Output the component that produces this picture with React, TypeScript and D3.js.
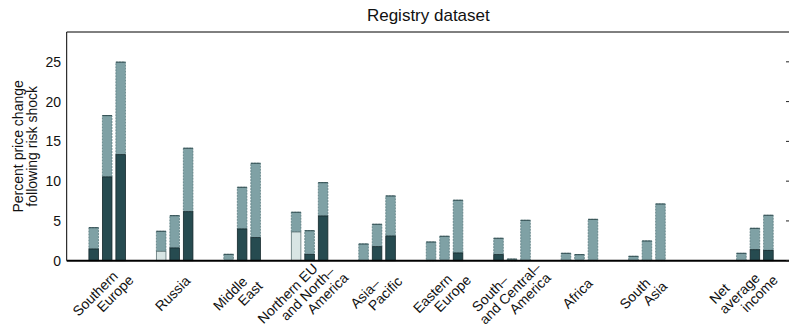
import React from "react";
import * as d3 from "d3";

const categories: string[][] = [
  ["Southern", "Europe"],
  ["Russia"],
  ["Middle", "East"],
  ["Northern EU", "and North–", "America"],
  ["Asia–", "Pacific"],
  ["Eastern", "Europe"],
  ["South–", "and Central–", "America"],
  ["Africa"],
  ["South", "Asia"],
  ["Net", "average", "income"],
];
const groupPositions = [1, 2, 3, 4, 5, 6, 7, 8, 9, 10.6];
const labelPositions = [1, 2, 3, 4, 5, 6, 7, 8, 9, 10.4];

// total height of each bar (three bars per group)
const totalValues = [
  [4.15, 18.24, 24.96],
  [3.7, 5.66, 14.14],
  [0.8, 9.23, 12.25],
  [6.09, 3.77, 9.81],
  [2.1, 4.58, 8.14],
  [2.35, 3.07, 7.6],
  [2.82, 0.2, 5.08],
  [0.93, 0.76, 5.2],
  [0.55, 2.48, 7.13],
  [0.93, 4.07, 5.71],
];
// dark lower segment
const darkValues = [
  [1.47, 10.53, 13.33],
  [0, 1.6, 6.16],
  [0, 3.99, 2.9],
  [0, 0.8, 5.62],
  [0, 1.76, 3.1],
  [0, 0, 0.97],
  [0.76, 0, 0],
  [0, 0, 0],
  [0, 0, 0],
  [0, 1.38, 1.3],
];
// pale lower segment
const paleValues = [
  [0, 0, 0],
  [1.18, 0, 0],
  [0, 0, 0],
  [3.61, 0, 0],
  [0, 0, 0],
  [0, 0, 0],
  [0, 0, 0],
  [0, 0, 0],
  [0, 0, 0],
  [0, 0, 0],
];
const yTicks = [0, 5, 10, 15, 20, 25];
const barOffsets = [-0.2, 0, 0.2];
const barWidth = 0.142;

const W = 789;
const H = 324;
const left = 66.7;
const right = 790;
const top = 32;
const bottom = 260.7;

const DARK = "#264b50";
const LIGHT = "#7fa1a5";
const PALE = "#d8e5e4";
const FONT = "'Liberation Sans', Arial, Helvetica, sans-serif";

export default function App() {
  const x = d3.scaleLinear().domain([0.4, 11.12]).range([left, right]);
  const y = d3.scaleLinear().domain([0, 28.75]).range([bottom, top]);
  const bw = x(barWidth) - x(0);
  const lineShift = 20;
  const labelY = 293.5;

  const bars: React.ReactNode[] = [];
  groupPositions.forEach((p, g) => {
    barOffsets.forEach((o, b) => {
      const xc = x(p + o);
      const x0 = xc - bw / 2;
      const tot = totalValues[g][b];
      const dk = darkValues[g][b];
      const pl = paleValues[g][b];
      const base = Math.max(dk, pl);
      bars.push(
        <rect key={`u${g}-${b}`} x={x0} y={y(tot)} width={bw} height={y(base) - y(tot)}
          fill={LIGHT} stroke="#587a7e" strokeWidth={0.8} strokeDasharray="2,1" />
      );
      bars.push(
        <line key={`t${g}-${b}`} x1={x0} x2={x0 + bw} y1={y(tot)} y2={y(tot)} stroke="#2f4c50" strokeWidth={1} />
      );
      if (dk > 0) {
        bars.push(
          <rect key={`d${g}-${b}`} x={x0} y={y(dk)} width={bw} height={y(0) - y(dk)}
            fill={DARK} stroke="#15292c" strokeWidth={0.8} />
        );
      }
      if (pl > 0) {
        bars.push(
          <rect key={`p${g}-${b}`} x={x0} y={y(pl)} width={bw} height={y(0) - y(pl)}
            fill={PALE} stroke="#5d7375" strokeWidth={0.8} />
        );
      }
    });
  });

  const labels: React.ReactNode[] = [];
  categories.forEach((lines, g) => {
    const cx = x(labelPositions[g]) - 2;
    const n = lines.length;
    lines.forEach((s, i) => {
      const lx = cx + (i - (n - 1) / 2) * lineShift;
      labels.push(
        <g key={`l${g}-${i}`} transform={`translate(${lx},${labelY}) rotate(-45)`}>
          <text x={0} y={0} dy="0.35em" textAnchor="middle" fontSize={14} fill="#111">{s}</text>
        </g>
      );
    });
  });

  return (
    <svg width={W} height={H} style={{ position: "absolute", left: 0, top: 0, background: "#fff" }}
      fontFamily={FONT}>
      <rect x={0} y={0} width={W} height={H} fill="#fff" />
      <text x={(left + right) / 2} y={20.5} textAnchor="middle" fontSize={17} fill="#111">Registry dataset</text>
      {bars}
      <line x1={left} x2={right} y1={top} y2={top} stroke="#000" strokeWidth={1} />
      <line x1={left} x2={left} y1={top} y2={bottom} stroke="#000" strokeWidth={1} />
      <line x1={right} x2={right} y1={top} y2={bottom} stroke="#000" strokeWidth={1} />
      <line x1={left} x2={right} y1={bottom} y2={bottom} stroke="#000" strokeWidth={2} />
      {yTicks.map((t) => (
        <g key={t}>
          <line x1={right - 4} x2={right} y1={y(t)} y2={y(t)} stroke="#222" strokeWidth={1} />
          <text x={61} y={y(t)} dy="0.36em" textAnchor="end" fontSize={14} fill="#111">{t}</text>
        </g>
      ))}
      <g transform={`translate(23,${(top + bottom) / 2}) rotate(-90)`}>
        <text x={0} y={0} textAnchor="middle" fontSize={14} fill="#111">Percent price change</text>
      </g>
      <g transform={`translate(36.5,${(top + bottom) / 2}) rotate(-90)`}>
        <text x={0} y={0} textAnchor="middle" fontSize={14} fill="#111">following risk shock</text>
      </g>
      {labels}
    </svg>
  );
}
